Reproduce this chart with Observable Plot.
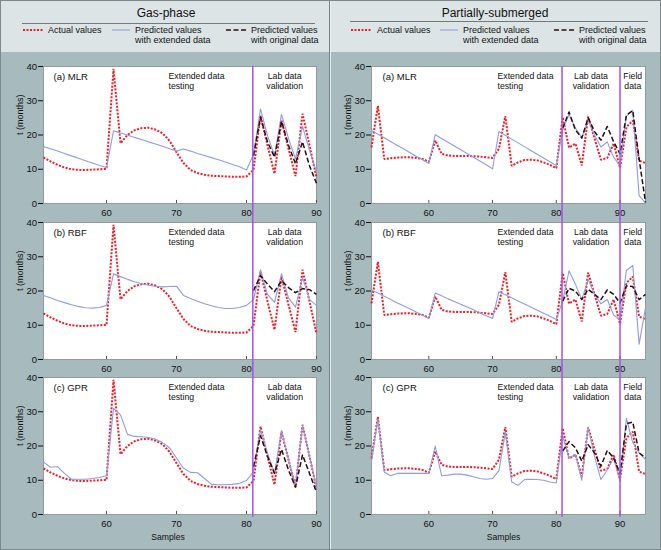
<!DOCTYPE html>
<html><head><meta charset="utf-8">
<script src="https://cdn.jsdelivr.net/npm/d3@7"></script>
<script src="https://cdn.jsdelivr.net/npm/@observablehq/plot@0.6"></script>
<style>
body{margin:0;background:#fff;}
#wrap{position:relative;width:661px;height:550px;background:#a7babe;font-family:"Liberation Sans",Arial,sans-serif;overflow:hidden;}
#header{position:absolute;left:0;top:0;width:661px;height:52px;background:#dde4e6;}
.abs{position:absolute;}
.ttl{position:absolute;font-size:12px;color:#111;white-space:nowrap;transform:translateX(-50%);}
.leg{position:absolute;font-size:9px;line-height:10px;color:#111;white-space:nowrap;}
.chart{position:absolute;}
.chart svg{overflow:visible;}
</style></head>
<body><div id="wrap"><div id="header"></div></div>
<script>
// ---------- DATA ----------
const gasSamples = d3.range(51, 91);        // samples 51..90
const partSamples = d3.range(51, 95);       // samples 51..94
const labSamplesGas = d3.range(81, 91);     // original-data predictions 81..90
const labSamplesPart = d3.range(81, 95);    // original-data predictions 81..94

const gasActual = [13.5,12.3,11.3,10.5,10,9.8,9.8,9.9,10,10.1,
  39.3,17.6,20,21.4,22,22.1,21.6,20.5,18.3,15,
  11.8,9.8,8.9,8.4,8.1,8,7.9,7.8,7.8,7.9,
  9.8,25.7,17,8.7,24.2,16,8,26.2,17,7.5];
const gasMLRext = [16.6,16,15.3,14.6,13.9,13.2,12.5,11.8,11.1,10.5,
  21.2,20.6,20,19.3,18.7,18,17.4,16.7,16,15.3,
  15.9,15.3,14.6,14,13.4,12.8,12.1,11.4,10.7,9.8,
  14.3,27.6,19.8,14,26,19,13,22.5,15.5,9.2];
const gasMLRorig = [14,25.2,18,13.5,24,17,11.6,18,11,5.9];
const gasRBFext = [18.7,18,17.2,16.6,16,15.5,15.1,15,15.2,15.8,
  25,24.2,23.4,22.7,22.1,21.7,21.4,21.2,21.3,21.4,
  18.7,17.8,17,16.3,15.7,15.2,14.9,14.9,15.2,15.8,
  17.5,26.2,19,16.7,25,18,15.3,24,17.5,15.8];
const gasRBForig = [20.1,24.5,22,19.8,23,21,19.5,20.7,20.4,19];
const gasGPRext = [15.3,13.8,14,12,10.3,10.3,10.3,10.5,10.8,11.3,
  31,29.1,23.4,22.8,22.7,22.5,22,21,19.5,16.5,
  13.5,12.3,12.2,10.5,8.8,8.7,8.7,8.8,9.1,9.9,
  12.5,24.8,18,12,24.5,16,8.5,26,17,8];
const gasGPRorig = [14,23,17,12,19,13,8,17.4,12,6.5];

const partActual = [16.4,28.5,13,13.2,13.4,13.5,13.5,13.3,13,12.2,
  18.4,14.5,14,13.9,13.9,13.9,13.8,13.7,13.5,13.3,
  16,25.5,11,12,12.7,12.8,12.6,12,11.3,10.3,
  25.2,16.3,17.5,11.1,25.4,19,12.8,13.3,17.5,10.4,
  22.3,24.2,12.5,11.8];
const partMLRext = [21.3,20.2,19.2,18.1,17,16,14.9,13.8,12.8,11.7,
  20.1,19,17.9,16.8,15.7,14.6,13.5,12.4,11.3,10.1,
  21,19.9,18.8,17.7,16.6,15.5,14.4,13.3,12.2,11.1,
  21.5,26,22,19.2,24.3,20,16.5,18,13.5,11,
  25.5,27.2,2.3,0.2];
const partMLRorig = [22,26.7,21.5,19.1,25,21,18.5,22.5,18,14.5,25.8,27.1,13,0.3];
const partRBFext = [20.3,19.4,18.5,17.5,16.6,15.7,14.8,13.9,12.9,12,
  19.4,18.6,17.7,16.9,16.1,15.3,14.5,13.6,12.8,12,
  19.8,18.9,18,17.1,16.2,15.3,14.4,13.5,12.6,11.7,
  17,25.9,22,17.5,23.4,19,16.3,17.5,13,11.5,
  26,27.5,4.5,15.1];
const partRBForig = [17,20.8,20,17.5,20.5,19,17.5,20.3,19,16.5,21.5,21.3,17.5,19];
const partGPRext = [15.6,27.9,12.4,11.3,12,12,12,12,12,12,
  20,11.3,11.5,11.8,11.8,11.5,11,10.5,10.3,10.5,
  12.8,24,9.5,8.5,10.2,10.3,10.2,10,9.5,9.2,
  23,16.5,17.5,10,25.5,17,10.2,13,16.5,9.5,
  28.1,21,18,16];
const partGPRorig = [18.5,21.3,19.5,15.6,20.4,18,14.1,18.7,16.5,12,26.5,27,18,16.5];

const xTicks = [60,70,80,90];
const yTicks = [0,10,20,30,40];
const gasBounds = [80.9];
const partBounds = [80.9, 90];
const gasRegions = [{x0: 80.9, x1: 90, label: "Lab data\nvalidation"}];
const partRegions = [{x0: 80.9, x1: 90, label: "Lab data\nvalidation"}, {x0: 90, x1: 94, label: "Field\ndata"}];
const extLabel = "Extended data\ntesting";
const panelLabels = ["(a) MLR", "(b) RBF", "(c) GPR"];
const columnTitles = ["Gas-phase", "Partially-submerged"];
const legendLabels = ["Actual values", "Predicted values\nwith extended data", "Predicted values\nwith original data"];

// ---------- STYLE ----------
const RED = "#ee1c25", BLUE = "#8d9de2", DARK = "#2a0c0c", PURPLE = "#a650e6";
const FONT = "Liberation Sans, Arial, sans-serif";

function panel(o) {
  const A = o.xs.map((x, i) => ({x, y: o.actual[i]}));
  const E = o.xs.map((x, i) => ({x, y: o.ext[i]}));
  const O = o.origXs.map((x, i) => ({x, y: o.orig[i]}));
  const marks = [
    Plot.frame({fill: "white", stroke: "#7f8a8c", strokeWidth: 0.8}),
    Plot.axisY({ticks: yTicks, tickSize: 5, tickPadding: 1.5, label: null, fontSize: 9.5}),
    Plot.axisX({ticks: xTicks, tickSize: 0, tickPadding: 6, label: null, fontSize: 9.5}),
    Plot.ruleX(xTicks, {y1: 0, y2: 0.9, stroke: "#555"}),
    Plot.text(["t (months)"], {frameAnchor: "left", rotate: -90, dx: -23, fontSize: 9, fill: "#111"}),
    Plot.line(A, {x: "x", y: "y", stroke: RED, strokeWidth: 2, strokeDasharray: "2,1.5", strokeLinecap: "butt", strokeLinejoin: "miter"}),
    Plot.line(E, {x: "x", y: "y", stroke: BLUE, strokeWidth: 1.1}),
    Plot.line(O, {x: "x", y: "y", stroke: DARK, strokeWidth: 1.5, strokeDasharray: "5,2.5", strokeLinecap: "butt"}),
    Plot.ruleX(o.bounds, {y1: 40, y2: o.below, stroke: PURPLE, strokeWidth: 1.5}),
    Plot.text([o.label], {frameAnchor: "top-left", dx: o.labelDx, dy: 10, lineAnchor: "middle", fontSize: 9.5, fill: "#111"}),
    Plot.text([extLabel], {frameAnchor: "top-left", dx: o.extDx, dy: 5.5, lineAnchor: "top", textAnchor: "start", fontSize: 8.7, lineHeight: 1.15, fill: "#111"}),
    Plot.text(o.regions, {x: d => (d.x0 + d.x1) / 2, text: "label", frameAnchor: "top", dy: 5.5, lineAnchor: "top", textAnchor: "middle", fontSize: 8.7, lineHeight: 1.15, fill: "#111"})
  ];
  if (o.samples) marks.push(Plot.text(["Samples"], {frameAnchor: "bottom", dy: 23, dx: o.samplesDx, lineAnchor: "middle", fontSize: 8.6, fill: "#111"}));
  return Plot.plot({
    width: o.width, height: o.height,
    marginLeft: o.ml, marginRight: o.mr, marginTop: 10, marginBottom: o.mb,
    x: {domain: o.xDomain}, y: {domain: [0, 40]},
    style: {background: "transparent", overflow: "visible", fontFamily: FONT, color: "#111"},
    marks
  });
}

const wrap = document.getElementById("wrap");
const tops = [56, 212, 367];
const cols = [
  {left: 0, width: 330, ml: 43, mr: 14, xs: gasSamples, origXs: labSamplesGas, actual: gasActual,
   sets: [[gasMLRext, gasMLRorig], [gasRBFext, gasRBForig], [gasGPRext, gasGPRorig]],
   xDomain: [51, 90], bounds: gasBounds, regions: gasRegions, labelDx: 10, extDx: 125, samplesDx: -12},
  {left: 330, width: 331, ml: 41, mr: 16, xs: partSamples, origXs: labSamplesPart, actual: partActual,
   sets: [[partMLRext, partMLRorig], [partRBFext, partRBForig], [partGPRext, partGPRorig]],
   xDomain: [51, 94], bounds: partBounds, regions: partRegions, labelDx: 11, extDx: 126, samplesDx: -5}
];
cols.forEach(c => {
  c.sets.forEach((s, i) => {
    const last = i === 2;
    const svg = panel({
      xs: c.xs, actual: c.actual, ext: s[0], origXs: c.origXs, orig: s[1],
      label: panelLabels[i], xDomain: c.xDomain, bounds: c.bounds, regions: c.regions,
      labelDx: c.labelDx, extDx: c.extDx, width: c.width, ml: c.ml, mr: c.mr,
      height: last ? 183 : 164, mb: last ? 36 : 17, below: last ? -0.8 : -5.6,
      samples: last, samplesDx: c.samplesDx
    });
    const d = document.createElement("div");
    d.className = "chart";
    d.style.left = c.left + "px"; d.style.top = tops[i] + "px";
    d.appendChild(svg);
    wrap.appendChild(d);
  });
});

// ---------- HEADER ----------
const header = document.getElementById("header");
const hdr = [
  {cx: 166, lineX0: 22, lineX1: 315, lineY: 23,
   items: [{x0: 23, x1: 43, tx: 48}, {x0: 112, x1: 130, tx: 135}, {x0: 226, x1: 246, tx: 251}]},
  {cx: 495, lineX0: 350, lineX1: 648, lineY: 21,
   items: [{x0: 351, x1: 372, tx: 377}, {x0: 440, x1: 458, tx: 463}, {x0: 554, x1: 575, tx: 579}]}
];
const sampleStyles = [
  {stroke: RED, w: 2, dash: "2,1.5"}, {stroke: BLUE, w: 1.1, dash: null}, {stroke: DARK, w: 1.5, dash: "5,2.5"}
];
hdr.forEach((h, ci) => {
  const t = document.createElement("div");
  t.className = "ttl"; t.textContent = columnTitles[ci];
  t.style.left = h.cx + "px"; t.style.top = "6px";
  header.appendChild(t);
  const ln = document.createElement("div");
  ln.className = "abs";
  Object.assign(ln.style, {left: h.lineX0 + "px", top: h.lineY + "px", width: (h.lineX1 - h.lineX0) + "px", height: "1px", background: "#6f7a7d"});
  header.appendChild(ln);
  h.items.forEach((it, k) => {
    const st = sampleStyles[k];
    const svg = d3.create("svg").attr("width", it.x1 - it.x0).attr("height", 4)
      .style("position", "absolute").style("left", it.x0 + "px").style("top", "28px");
    svg.append("line").attr("x1", 0).attr("x2", it.x1 - it.x0).attr("y1", 2).attr("y2", 2)
      .attr("stroke", st.stroke).attr("stroke-width", st.w).attr("stroke-dasharray", st.dash);
    header.appendChild(svg.node());
    const lines = legendLabels[k].split("\n");
    const tx = document.createElement("div");
    tx.className = "leg";
    tx.style.left = it.tx + "px"; tx.style.top = "25px";
    lines.forEach((l, j) => { if (j) tx.appendChild(document.createElement("br")); tx.appendChild(document.createTextNode(l)); });
    header.appendChild(tx);
  });
});

// column divider and outer border
const div = document.createElement("div");
div.className = "abs";
Object.assign(div.style, {left: "329px", top: "0", width: "1px", height: "550px", background: "#77858a", borderRight: "1px solid #e8eef0"});
wrap.appendChild(div);
const border = document.createElement("div");
border.className = "abs";
Object.assign(border.style, {left: "0", top: "0", width: "659px", height: "548px", border: "1px solid #7d898c", pointerEvents: "none"});
wrap.appendChild(border);
</script>
</body></html>
